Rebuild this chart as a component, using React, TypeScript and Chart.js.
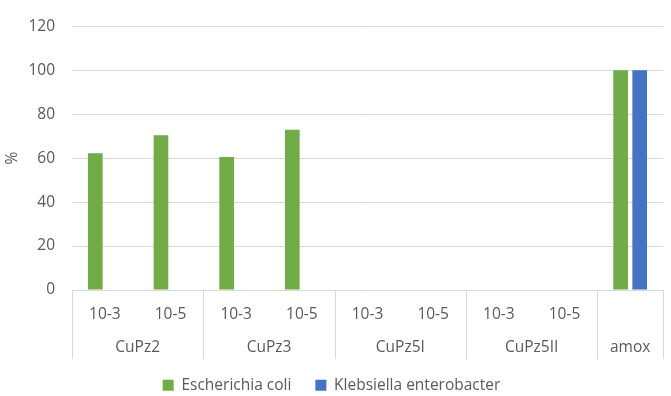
import React, { useEffect, useRef } from "react";
import { Chart, registerables } from "chart.js";

Chart.register(...registerables);

const subLabels = ["10-3", "10-5", "10-3", "10-5", "10-3", "10-5", "10-3", "10-5", ""];
const groupLabels = ["CuPz2", "CuPz3", "CuPz5I", "CuPz5II", "amox"];
const groupSpans = [2, 2, 2, 2, 1];
const ecoliValues = [62.2, 70.4, 60.5, 72.9, 0, 0, 0, 0, 100];
const klebsiellaValues = [0, 0, 0, 0, 0, 0, 0, 0, 100];
const seriesNames = ["Escherichia coli", "Klebsiella enterobacter"];
const yMin = 0;
const yMax = 120;
const yStep = 20;

const TEXT = "#595959";
const GRID = "#d9d9d9";
const FONT = "'Open Sans', 'Noto Sans', sans-serif";
const FS = 15.5;
const LEGEND_PAD = 24;

const groupAxisPlugin = {
  id: "groupAxis",
  afterDraw(chart: any) {
    const x = chart.scales.x;
    const { ctx, chartArea } = chart;
    const slot = x.getPixelForValue(1) - x.getPixelForValue(0);
    const top = chartArea.bottom;
    const lineBottom = top + 69;
    ctx.save();
    ctx.strokeStyle = GRID;
    ctx.lineWidth = 1;
    ctx.fillStyle = TEXT;
    ctx.font = `${FS}px ${FONT}`;
    ctx.textAlign = "center";
    ctx.textBaseline = "middle";
    let idx = 0;
    const edges: number[] = [x.getPixelForValue(0) - slot / 2];
    groupSpans.forEach((span, g) => {
      const left = x.getPixelForValue(idx) - slot / 2;
      const right = x.getPixelForValue(idx + span - 1) + slot / 2;
      edges.push(right);
      ctx.fillText(groupLabels[g], (left + right) / 2, top + 58);
      idx += span;
    });
    edges.forEach((e) => {
      const px = Math.round(e) + 0.5;
      ctx.beginPath();
      ctx.moveTo(px, top);
      ctx.lineTo(px, lineBottom);
      ctx.stroke();
    });
    ctx.restore();
  },
};

export default function App() {
  const ref = useRef<HTMLCanvasElement | null>(null);
  useEffect(() => {
    if (!ref.current) return;
    const chart = new Chart(ref.current, {
      type: "bar",
      data: {
        labels: subLabels,
        datasets: [
          {
            label: seriesNames[0],
            data: ecoliValues,
            backgroundColor: "#70ad47",
            barPercentage: 0.77,
            categoryPercentage: 0.58,
          },
          {
            label: seriesNames[1],
            data: klebsiellaValues,
            backgroundColor: "#4472c4",
            barPercentage: 0.77,
            categoryPercentage: 0.58,
          },
        ],
      },
      options: {
        responsive: false,
        animation: false,
        devicePixelRatio: 1,
        layout: { padding: { top: 10, right: 8, left: 0, bottom: -7 } },
        font: { family: FONT, size: FS },
        plugins: {
          tooltip: { enabled: false },
          legend: {
            position: "bottom",
            labels: {
              boxWidth: 11,
              boxHeight: 11,
              padding: LEGEND_PAD,
              color: TEXT,
              font: { family: FONT, size: FS },
            },
          },
        },
        scales: {
          x: {
            grid: { display: false, drawTicks: false },
            border: { display: false },
            ticks: {
              color: TEXT,
              font: { family: FONT, size: FS },
              padding: 15,
              maxRotation: 0,
              autoSkip: false,
            },
            afterFit(scale: any) {
              scale.height = 87.5 - LEGEND_PAD;
            },
          },
          y: {
            min: yMin,
            max: yMax,
            grid: { color: GRID, lineWidth: 1, drawTicks: false },
            border: { display: false },
            ticks: {
              stepSize: yStep,
              color: TEXT,
              font: { family: FONT, size: FS },
              padding: 17,
            },
            title: {
              display: true,
              text: "%",
              color: TEXT,
              font: { family: FONT, size: FS },
              padding: { top: 3, bottom: 0 },
            },
            afterFit(scale: any) {
              scale.width = 72;
            },
          },
        },
      },
      plugins: [groupAxisPlugin],
    });
    return () => chart.destroy();
  }, []);
  return (
    <div style={{ position: "fixed", left: 0, top: 0, width: 671, height: 396, background: "#fff" }}>
      <canvas ref={ref} width={671} height={396} style={{ display: "block" }} />
    </div>
  );
}
